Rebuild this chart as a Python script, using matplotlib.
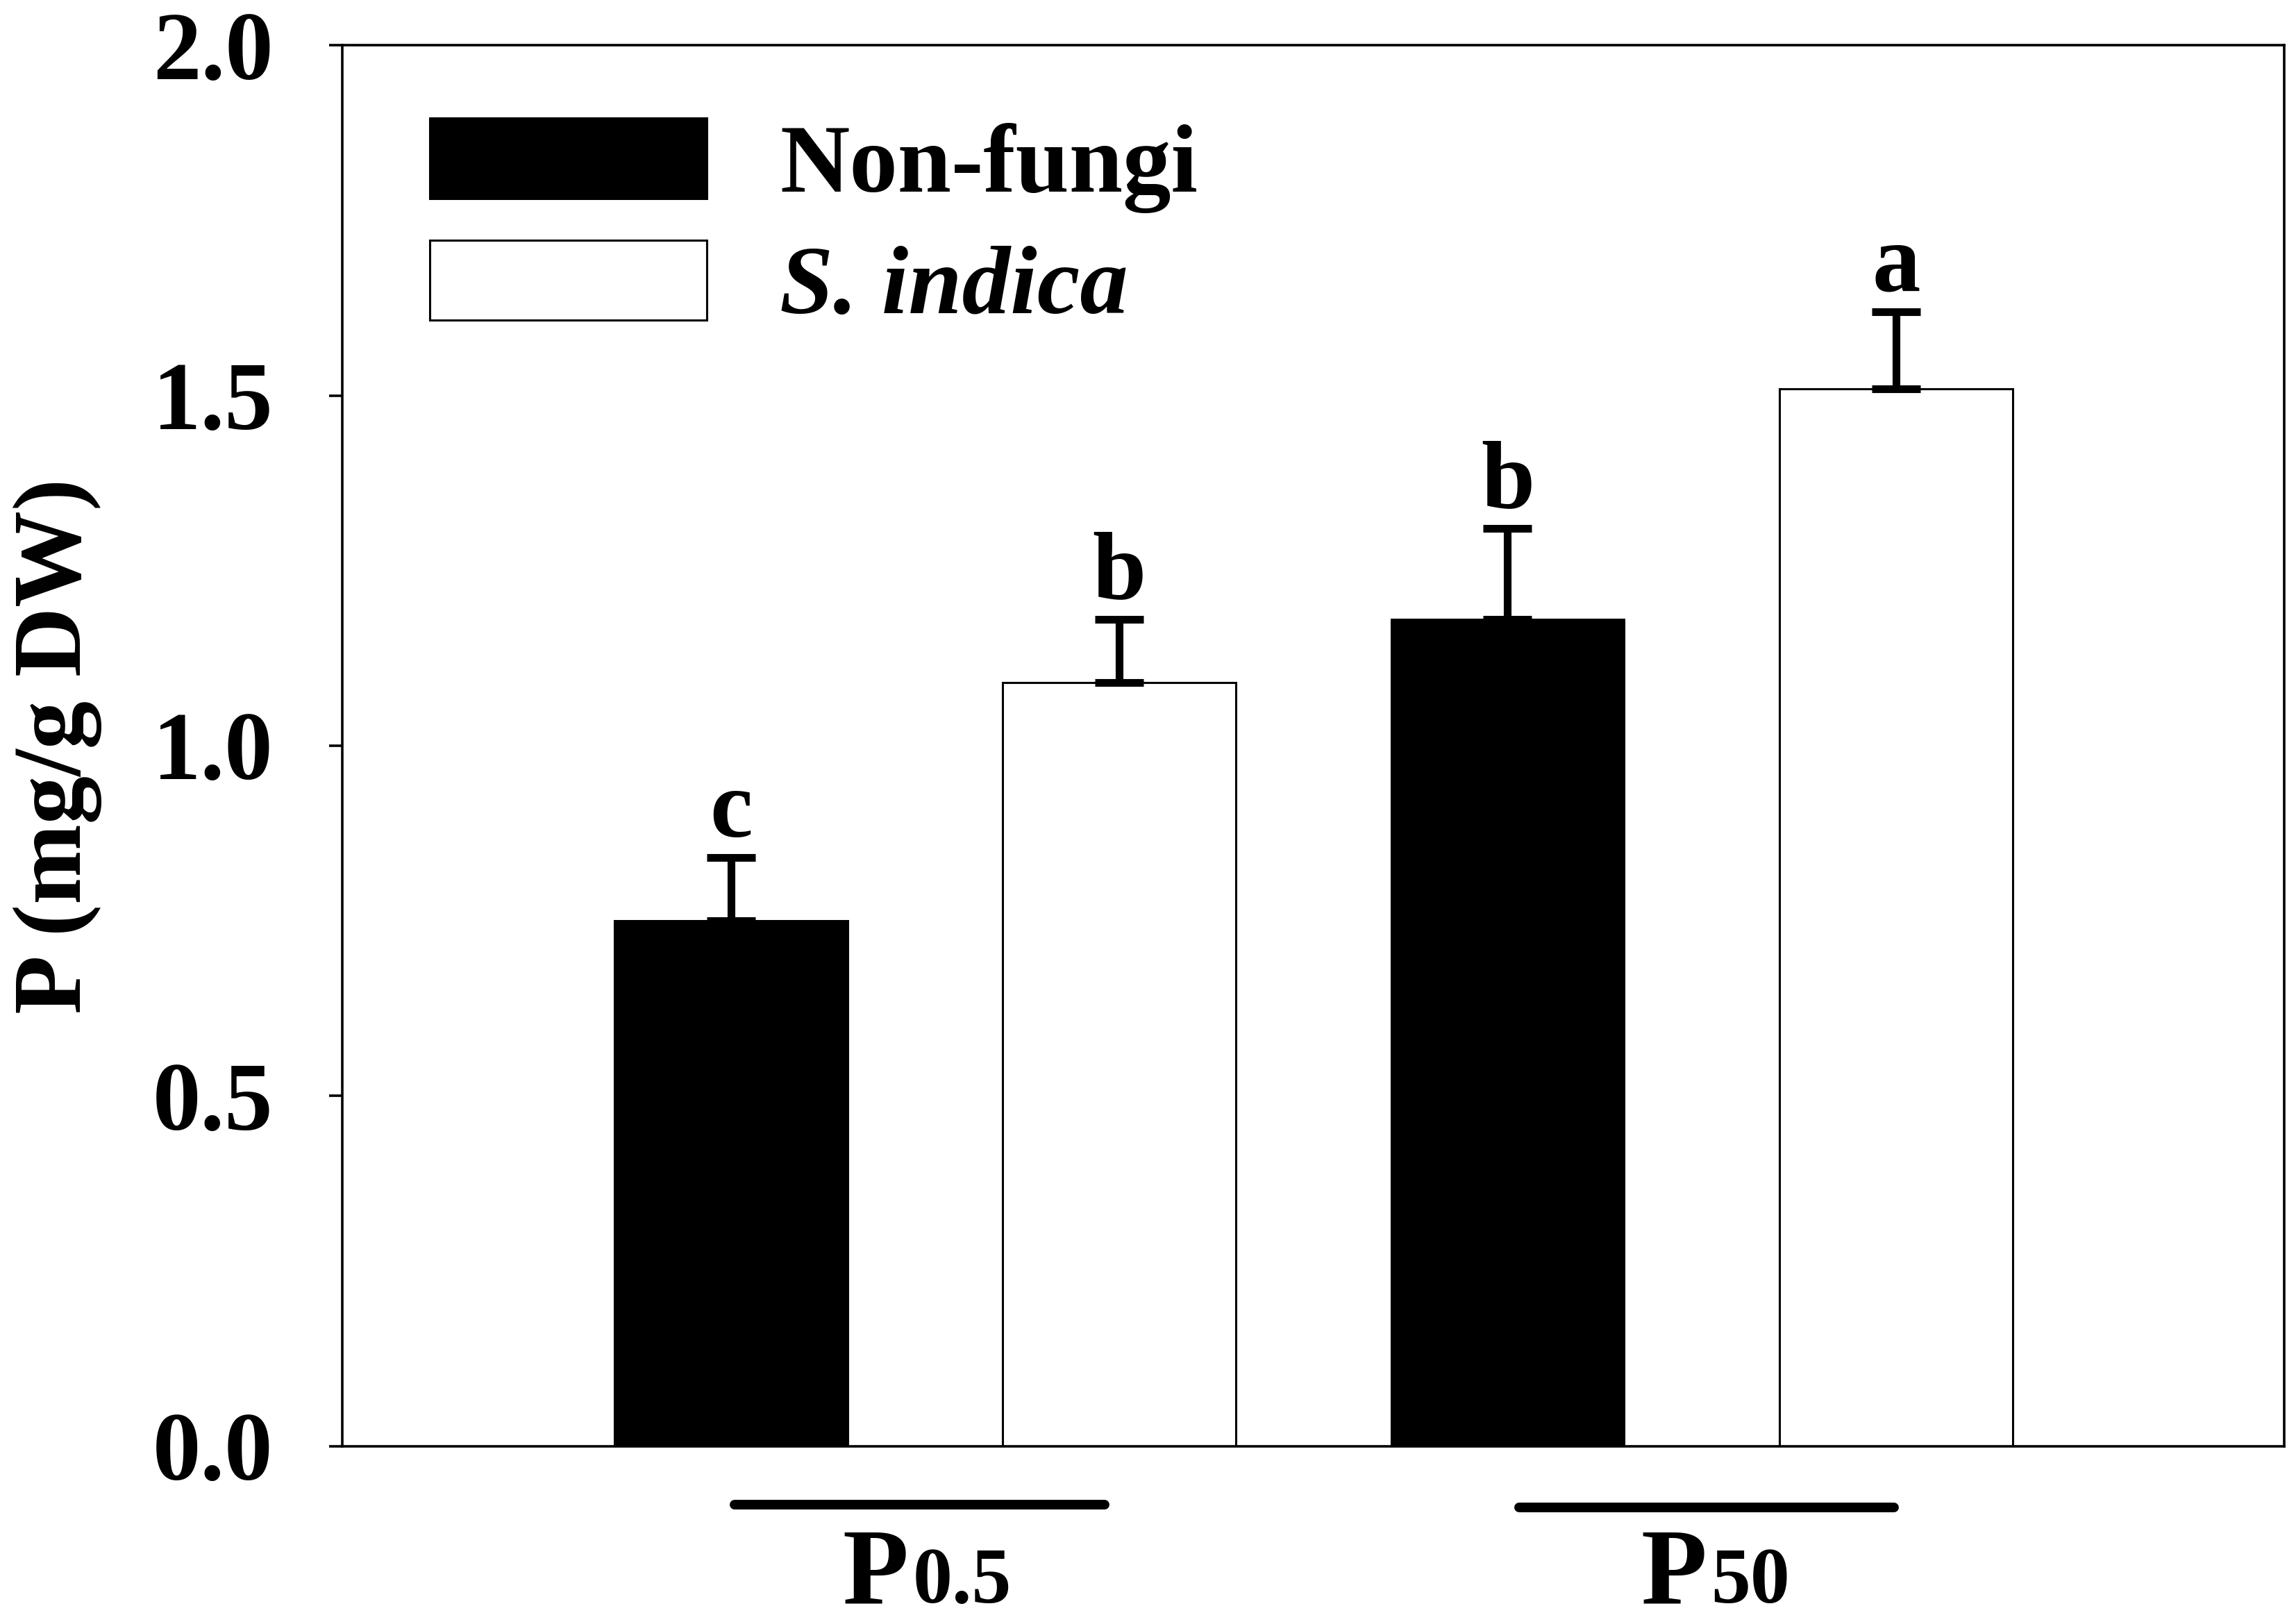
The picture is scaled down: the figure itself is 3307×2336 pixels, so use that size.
import matplotlib
matplotlib.use("Agg")
import matplotlib.pyplot as plt
import matplotlib.transforms as mtransforms
from matplotlib.patches import Patch

plt.rcParams['font.family'] = ['Liberation Serif', 'DejaVu Serif']
plt.rcParams['font.weight'] = 'bold'

# data
groups = ["P", "P"]
group_subs = ["0.5", "50"]
series = ["Non-fungi", "S. indica"]
nonfungi = [0.75, 1.18]
nonfungi_err = [0.09, 0.13]
sindica = [1.09, 1.51]
sindica_err = [0.09, 0.11]
letters_nonfungi = ["c", "b"]
letters_sindica = ["b", "a"]
yticks = [0.0, 0.5, 1.0, 1.5, 2.0]

FS = 100


def main():
    fig = plt.figure(figsize=(33.07, 23.36), dpi=100)
    ax = fig.add_axes([0.1492, 0.1085, 0.8457, 0.8635])

    width = 0.6
    x_nf = [1 + 2 * i for i in range(len(nonfungi))]
    x_si = [2 + 2 * i for i in range(len(sindica))]

    ax.bar(x_nf, nonfungi, width, color="black", edgecolor="black", linewidth=2.2,
           label=series[0], zorder=2)
    ax.bar(x_si, sindica, width, color="white", edgecolor="black", linewidth=2.2,
           label=series[1], zorder=2)

    for xs, ys, es in [(x_nf, nonfungi, nonfungi_err), (x_si, sindica, sindica_err)]:
        ax.errorbar(xs, ys, yerr=[[0] * len(es), es], fmt="none", ecolor="black",
                    elinewidth=8, capsize=25, capthick=8, zorder=3)

    for xs, ys, es, labs in [(x_nf, nonfungi, nonfungi_err, letters_nonfungi),
                             (x_si, sindica, sindica_err, letters_sindica)]:
        for x, y, e, t in zip(xs, ys, es, labs):
            ax.annotate(t, xy=(x, y + e), xytext=(0, 22), textcoords="offset points",
                        ha="center", va="baseline", fontsize=FS, fontweight="bold")

    ax.set_xlim(0, 5)
    ax.set_ylim(0, 2.0)
    ax.set_yticks(yticks)
    ax.set_yticklabels([f"{v:.1f}" for v in yticks])
    ax.set_xticks([])
    ax.tick_params(axis="y", direction="out", length=14, width=2.6, pad=58,
                   labelsize=FS)
    for s in ax.spines.values():
        s.set_linewidth(2.6)

    ax.set_ylabel("P (mg/g DW)", fontsize=FS, fontweight="bold", labelpad=52)

    # group bars and labels under the axis
    trans = mtransforms.blended_transform_factory(ax.transData, ax.transAxes)
    line_ends = [(1.01, 1.962), (3.03, 3.995)]
    line_y = [-0.042, -0.044]
    label_center = [1.505, 3.535]
    parts = []
    for i in range(len(groups)):
        ax.plot(line_ends[i], [line_y[i], line_y[i]], transform=trans, color="black",
                linewidth=10, solid_capstyle="round", clip_on=False)
        tp = ax.text(0, -0.112, groups[i], transform=trans, ha="left",
                     va="baseline", fontsize=112, fontweight="bold")
        ts = ax.text(0, -0.112, group_subs[i], transform=trans, ha="left",
                     va="baseline", fontsize=82, fontweight="bold")
        parts.append((tp, ts, label_center[i]))

    handles = [Patch(facecolor="black", edgecolor="black", linewidth=2.2),
               Patch(facecolor="white", edgecolor="black", linewidth=2.2)]
    leg = ax.legend(handles, series, loc="upper left", bbox_to_anchor=(0.045, 0.948),
                    frameon=False, fontsize=FS, handlelength=2.87, handleheight=0.9,
                    handletextpad=0.76, labelspacing=0.28, borderpad=0,
                    borderaxespad=0)
    leg.get_texts()[1].set_fontstyle("italic")

    # center the P + subscript pairs
    fig.canvas.draw()
    r = fig.canvas.get_renderer()
    inv = ax.transData.inverted()
    for tp, ts, c in parts:
        wp = tp.get_window_extent(r).width
        wsub = ts.get_window_extent(r).width
        gap = 6
        cx = ax.transData.transform((c, 0))[0]
        x0 = cx - (wp + gap + wsub) / 2
        tp.set_x(inv.transform((x0, 0))[0])
        ts.set_x(inv.transform((x0 + wp + gap, 0))[0])

    fig.savefig("out.png", dpi=100)


if __name__ == "__main__":
    main()
